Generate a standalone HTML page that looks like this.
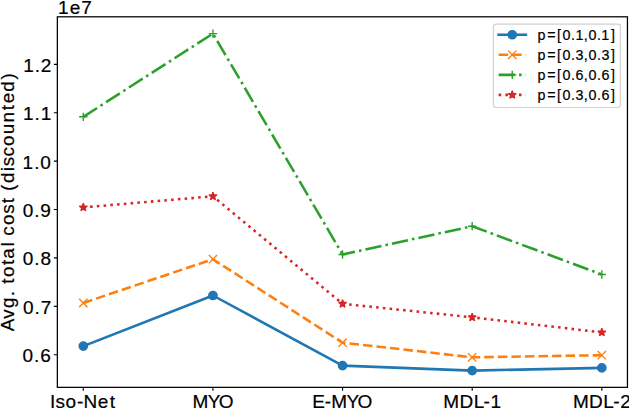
<!DOCTYPE html>
<html><head><meta charset="utf-8"><title>Avg. total cost (discounted)</title>
<style>html,body{margin:0;padding:0;background:#fff;width:629px;height:408px;overflow:hidden;}svg{display:block;}text{font-family:"Liberation Sans", sans-serif;}</style>
</head><body>
<svg width="629" height="408" viewBox="0 0 629 408">
<rect x="0" y="0" width="629" height="408" fill="#fff"/>
<clipPath id="ax"><rect x="57.35" y="16.8" width="570.1" height="370.55"/></clipPath>
<g clip-path="url(#ax)">
<path d="M83.3,346.1 L212.93,295.5 L342.56,365.6 L472.19,370.6 L601.82,367.9" fill="none" stroke="#1f77b4" stroke-width="2.556" stroke-linecap="square" stroke-linejoin="round"/>
<circle cx="83.3" cy="346.1" r="4.17" fill="#1f77b4" stroke="#1f77b4" stroke-width="1.39"/>
<circle cx="212.93" cy="295.5" r="4.17" fill="#1f77b4" stroke="#1f77b4" stroke-width="1.39"/>
<circle cx="342.56" cy="365.6" r="4.17" fill="#1f77b4" stroke="#1f77b4" stroke-width="1.39"/>
<circle cx="472.19" cy="370.6" r="4.17" fill="#1f77b4" stroke="#1f77b4" stroke-width="1.39"/>
<circle cx="601.82" cy="367.9" r="4.17" fill="#1f77b4" stroke="#1f77b4" stroke-width="1.39"/>
<path d="M83.3,303 L212.93,259.2 L342.56,342.7 L472.19,357.3 L601.82,355.2" fill="none" stroke="#ff7f0e" stroke-width="2.556" stroke-dasharray="9.46,4.09" stroke-linejoin="round"/>
<path d="M79.13,298.83 L87.47,307.17 M79.13,307.17 L87.47,298.83" stroke="#ff7f0e" stroke-width="1.39" fill="none"/>
<path d="M208.77,255.03 L217.09,263.37 M208.77,263.37 L217.09,255.03" stroke="#ff7f0e" stroke-width="1.39" fill="none"/>
<path d="M338.39,338.53 L346.73,346.87 M338.39,346.87 L346.73,338.53" stroke="#ff7f0e" stroke-width="1.39" fill="none"/>
<path d="M468.02,353.13 L476.36,361.47 M468.02,361.47 L476.36,353.13" stroke="#ff7f0e" stroke-width="1.39" fill="none"/>
<path d="M597.65,351.03 L605.98,359.37 M597.65,359.37 L605.98,351.03" stroke="#ff7f0e" stroke-width="1.39" fill="none"/>
<path d="M83.3,116.8 L212.93,33.6 L342.56,254.5 L472.19,226.2 L601.82,274.5" fill="none" stroke="#2ca02c" stroke-width="2.556" stroke-dasharray="16.36,4.09,2.56,4.09" stroke-linejoin="round"/>
<path d="M79.13,116.8 L87.47,116.8 M83.3,112.63 L83.3,120.97" stroke="#2ca02c" stroke-width="1.39" fill="none"/>
<path d="M208.77,33.6 L217.09,33.6 M212.93,29.44 L212.93,37.77" stroke="#2ca02c" stroke-width="1.39" fill="none"/>
<path d="M338.39,254.5 L346.73,254.5 M342.56,250.34 L342.56,258.67" stroke="#2ca02c" stroke-width="1.39" fill="none"/>
<path d="M468.02,226.2 L476.36,226.2 M472.19,222.03 L472.19,230.36" stroke="#2ca02c" stroke-width="1.39" fill="none"/>
<path d="M597.65,274.5 L605.98,274.5 M601.82,270.33 L601.82,278.67" stroke="#2ca02c" stroke-width="1.39" fill="none"/>
<path d="M83.3,207.4 L212.93,196.3 L342.56,303.8 L472.19,317.3 L601.82,332.4" fill="none" stroke="#d62728" stroke-width="2.556" stroke-dasharray="2.56,4.22" stroke-linejoin="round"/>
<path d="M83.3,203.24 L84.24,206.11 L87.26,206.11 L84.81,207.89 L85.75,210.77 L83.3,208.99 L80.85,210.77 L81.79,207.89 L79.34,206.11 L82.36,206.11Z" fill="#d62728" stroke="#d62728" stroke-width="1.39" stroke-linejoin="bevel"/>
<path d="M212.93,192.14 L213.87,195.01 L216.89,195.01 L214.44,196.79 L215.38,199.67 L212.93,197.89 L210.48,199.67 L211.42,196.79 L208.97,195.01 L211.99,195.01Z" fill="#d62728" stroke="#d62728" stroke-width="1.39" stroke-linejoin="bevel"/>
<path d="M342.56,299.63 L343.5,302.51 L346.52,302.51 L344.07,304.29 L345.01,307.17 L342.56,305.39 L340.11,307.17 L341.05,304.29 L338.6,302.51 L341.62,302.51Z" fill="#d62728" stroke="#d62728" stroke-width="1.39" stroke-linejoin="bevel"/>
<path d="M472.19,313.13 L473.13,316.01 L476.15,316.01 L473.7,317.79 L474.64,320.67 L472.19,318.89 L469.74,320.67 L470.68,317.79 L468.23,316.01 L471.25,316.01Z" fill="#d62728" stroke="#d62728" stroke-width="1.39" stroke-linejoin="bevel"/>
<path d="M601.82,328.23 L602.76,331.11 L605.78,331.11 L603.33,332.89 L604.27,335.77 L601.82,333.99 L599.37,335.77 L600.31,332.89 L597.86,331.11 L600.88,331.11Z" fill="#d62728" stroke="#d62728" stroke-width="1.39" stroke-linejoin="bevel"/>
</g>
<rect x="57.35" y="16.8" width="570.1" height="370.55" fill="none" stroke="#000" stroke-width="1.25"/>
<path d="M53.85,354.76H57.35 M53.85,306.35H57.35 M53.85,257.94H57.35 M53.85,209.53H57.35 M53.85,161.12H57.35 M53.85,112.71H57.35 M53.85,64.3H57.35 M83.3,387.35V390.85 M212.93,387.35V390.85 M342.56,387.35V390.85 M472.19,387.35V390.85 M601.82,387.35V390.85" stroke="#000" stroke-width="1.15" fill="none"/>
<g font-family="Liberation Sans, sans-serif" fill="#000">
<text x="22.58 34.07 40.28" y="362.16" font-size="19.0" stroke="#000" stroke-width="0.2">0.6</text>
<text x="23 34.49 40.66" y="313.75" font-size="19.0" stroke="#000" stroke-width="0.2">0.7</text>
<text x="22.68 34.17 40.38" y="265.34" font-size="19.0" stroke="#000" stroke-width="0.2">0.8</text>
<text x="22.72 34.21 40.36" y="216.93" font-size="19.0" stroke="#000" stroke-width="0.2">0.9</text>
<text x="22.55 34.13 40.34" y="168.52" font-size="19.0" stroke="#000" stroke-width="0.2">1.0</text>
<text x="23.03 34.61 40.73" y="120.11" font-size="19.0" stroke="#000" stroke-width="0.2">1.1</text>
<text x="23.18 34.76 40.72" y="71.7" font-size="19.0" stroke="#000" stroke-width="0.2">1.2</text>
<text x="50.02 55.6 65.45 76.93 83.51 97.78 109.68" y="407.5" font-size="19.0" stroke="#000" stroke-width="0.2">Iso-Net</text>
<text x="192.52 207.76 218.67" y="407.5" font-size="19.0" stroke="#000" stroke-width="0.2">MYO</text>
<text x="312.32 324.76 331.36 346.6 357.5" y="407.5" font-size="19.0" stroke="#000" stroke-width="0.2">E-MYO</text>
<text x="443.18 459.41 473.66 483.57 490.6" y="407.5" font-size="19.0" stroke="#000" stroke-width="0.2">MDL-1</text>
<text x="572.88 589.12 603.36 613.27 620.15" y="407.5" font-size="19.0" stroke="#000" stroke-width="0.2">MDL-2</text>
<text x="58.08 69.82 81.35" y="13.7" font-size="19.0" stroke="#000" stroke-width="0.2">1e7</text>
<text transform="translate(14,0) rotate(-90)" x="-331.32 -318.87 -308.02 -296.34 -290.72 -283.75 -276.92 -264.92 -258.77 -246.57 -241.86 -235.68 -225.1 -213.82 -203.33 -196.98 -190.98 -183.12 -171.27 -166.28 -156.58 -146 -134.36 -122.39 -110.22 -103.32 -91.76 -79.44" y="0" font-size="18.9" stroke="#000" stroke-width="0.2">Avg. total cost (discounted)</text>
</g>
<g font-family="Liberation Sans, sans-serif" fill="#000">
<rect x="493.45" y="24.1" width="126.95" height="83.4" rx="2.8" ry="2.8" fill="#fff" fill-opacity="0.8" stroke="#d2d2d2" stroke-width="1.2"/>
<path d="M498.6,34.75 L525.9,34.75" fill="none" stroke="#1f77b4" stroke-width="2.556" stroke-linecap="square" stroke-linejoin="round"/>
<circle cx="512.25" cy="34.75" r="4.17" fill="#1f77b4" stroke="#1f77b4" stroke-width="1.39"/>
<text x="537.43 547.13 557.12 562.61 571.07 575.48 583.87 588.49 596.94 601.35 610.91" y="39.55" font-size="14.3" stroke="#000" stroke-width="0.2">p=[0.1,0.1]</text>
<path d="M498.6,54.8 L525.9,54.8" fill="none" stroke="#ff7f0e" stroke-width="2.556" stroke-dasharray="9.46,4.09" stroke-linejoin="round"/>
<path d="M508.08,50.63 L516.41,58.96 M508.08,58.96 L516.41,50.63" stroke="#ff7f0e" stroke-width="1.39" fill="none"/>
<text x="537.43 547.13 557.12 562.61 571.07 575.57 583.87 588.49 596.94 601.44 610.91" y="59.6" font-size="14.3" stroke="#000" stroke-width="0.2">p=[0.3,0.3]</text>
<path d="M498.6,74.85 L525.9,74.85" fill="none" stroke="#2ca02c" stroke-width="2.556" stroke-dasharray="16.36,4.09,2.56,4.09" stroke-linejoin="round"/>
<path d="M508.08,74.85 L516.41,74.85 M512.25,70.69 L512.25,79.02" stroke="#2ca02c" stroke-width="1.39" fill="none"/>
<text x="537.43 547.13 557.12 562.61 571.07 575.55 583.87 588.49 596.94 601.43 610.91" y="79.65" font-size="14.3" stroke="#000" stroke-width="0.2">p=[0.6,0.6]</text>
<path d="M498.6,94.9 L525.9,94.9" fill="none" stroke="#d62728" stroke-width="2.556" stroke-dasharray="2.56,4.22" stroke-linejoin="round"/>
<path d="M512.25,90.73 L513.19,93.61 L516.21,93.61 L513.76,95.39 L514.7,98.27 L512.25,96.49 L509.8,98.27 L510.74,95.39 L508.29,93.61 L511.31,93.61Z" fill="#d62728" stroke="#d62728" stroke-width="1.39" stroke-linejoin="bevel"/>
<text x="537.43 547.13 557.12 562.61 571.07 575.57 583.87 588.49 596.94 601.43 610.91" y="99.7" font-size="14.3" stroke="#000" stroke-width="0.2">p=[0.3,0.6]</text>
</g>
</svg>
</body></html>
